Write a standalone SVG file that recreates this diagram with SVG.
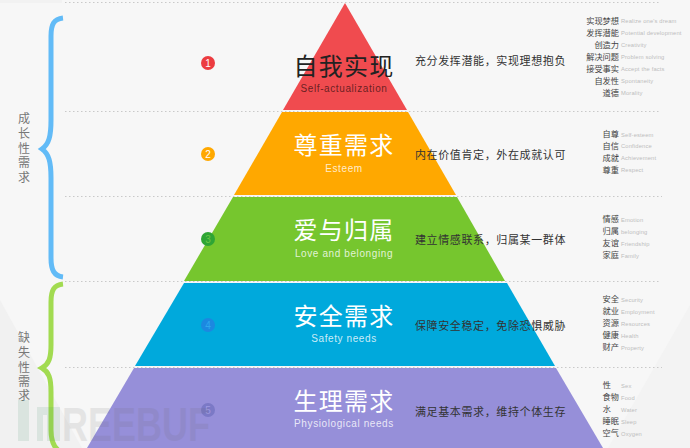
<svg xmlns="http://www.w3.org/2000/svg" width="690" height="448" viewBox="0 0 690 448">
<style>
text{font-family:"Liberation Sans","Noto Sans CJK SC",sans-serif}
.cn{font-family:"Noto Sans CJK SC","Liberation Sans",sans-serif}
.title{font-size:24px;fill:#fff;text-anchor:middle;letter-spacing:1.2px}
.en{font-size:10px;fill:#fff;fill-opacity:.8;text-anchor:middle;letter-spacing:.6px}
.desc{font-size:11px;fill:#333;letter-spacing:.62px}
.k{font-size:8.2px;fill:#444;text-anchor:end}
.v{font-size:5.8px;fill:#bdbdbd;letter-spacing:.15px}
.side{font-size:12px;fill:#777;text-anchor:middle}
.dot{fill:none;stroke:#c9c9c9;stroke-width:1;stroke-dasharray:1.5 2.5}
.num{font-size:10px;text-anchor:middle}
.brace{fill:none;stroke-width:5}
</style>
<rect width="690" height="448" fill="#f7f7f7"/>
<rect width="62" height="3" fill="#f2f2f2"/>
<g id="background">
<polygon points="690,305 608,448 690,448" fill="#f3f3f3"/>
<polygon points="0,300 0,448 82,448" fill="#f1f1f1"/>
</g>
<g id="connectors">
<path class="dot" d="M65 2.500H660M65 111.500H660M65 196.500H662M65 281.500H660M65 367.500H662"/>
<path class="brace" stroke="#62bbf7" d="M63 18C54 19 51 24 51 36V120C51 136 49 144 42 149C49 154 51 162 51 178V258C51 270 54 276 63 277"/>
<path class="brace" stroke="#a2db51" d="M63 284C54 285 51 290 51 302V345C51 358 49 364 42 368C49 372 51 378 51 392V430C51 440 53 446 58 450"/>
</g>
<g id="level-5">
<polygon points="134,368 556,368 603,448 87,448" fill="#968fd9"/>
<circle cx="208" cy="410" r="7" fill="#7b79c6"/><text class="num" x="208" y="414" fill="#a09be2">5</text>
<text class="title cn" x="344" y="410">生理需求</text>
<text class="en" x="344" y="427">Physiological needs</text>
<text class="desc cn" x="415" y="416">满足基本需求，维持个体生存</text>
</g>
<g id="level-4">
<polygon points="184,283 507,283 555,366 135,366" fill="#00a9dc"/>
<circle cx="208" cy="325" r="7" fill="#1c88e0"/><text class="num" x="208" y="329" fill="#2fa8ee">4</text>
<text class="title cn" x="344" y="325">安全需求</text>
<text class="en" x="344" y="342">Safety needs</text>
<text class="desc cn" x="415" y="330">保障安全稳定，免除恐惧威胁</text>
</g>
<g id="level-3">
<polygon points="233,197 457,197 505,281 184,281" fill="#76c62e"/>
<circle cx="208" cy="239" r="7" fill="#2ea535"/><text class="num" x="208" y="243" fill="#6cc644">3</text>
<text class="title cn" x="344" y="239">爱与归属</text>
<text class="en" x="344" y="257">Love and belonging</text>
<text class="desc cn" x="415" y="244">建立情感联系，归属某一群体</text>
</g>
<g id="level-2">
<polygon points="282,112 408,112 456,195 234,195" fill="#ffa800"/>
<circle cx="208" cy="154" r="7" fill="#ffa800"/><text class="num" x="208" y="158" fill="#fff">2</text>
<text class="title cn" x="344" y="154">尊重需求</text>
<text class="en" x="344" y="172">Esteem</text>
<text class="desc cn" x="415" y="159">内在价值肯定，外在成就认可</text>
</g>
<g id="level-1">
<polygon points="345,3 407,110 283,110" fill="#f04b4f"/>
<circle cx="208" cy="63" r="7" fill="#ec3c40"/><text class="num" x="208" y="67" fill="#fff">1</text>
<text class="title cn" x="344" y="75" style="fill:#222">自我实现</text>
<text class="en" x="344" y="92" style="fill:#5a1a1c;fill-opacity:.9">Self-actualization</text>
<text class="desc cn" x="415" y="65">充分发挥潜能，实现理想抱负</text>
</g>
<g id="side-labels">
<text class="side cn" x="24" y="123">成</text><text class="side cn" x="24" y="138">长</text><text class="side cn" x="24" y="153">性</text><text class="side cn" x="24" y="167">需</text><text class="side cn" x="24" y="182">求</text>
<text class="side cn" x="24" y="342">缺</text><text class="side cn" x="24" y="357">失</text><text class="side cn" x="24" y="372">性</text><text class="side cn" x="24" y="386">需</text><text class="side cn" x="24" y="400">求</text>
</g>
<g id="list-1">
<text class="k cn" x="619" y="24">实现梦想</text><text class="v" x="621" y="23">Realize one's dream</text>
<text class="k cn" x="619" y="36">发挥潜能</text><text class="v" x="621" y="35">Potential development</text>
<text class="k cn" x="619" y="48">创造力</text><text class="v" x="621" y="47">Creativity</text>
<text class="k cn" x="619" y="60">解决问题</text><text class="v" x="621" y="59">Problem solving</text>
<text class="k cn" x="619" y="72">接受事实</text><text class="v" x="621" y="71">Accept the facts</text>
<text class="k cn" x="619" y="84">自发性</text><text class="v" x="621" y="83">Spontaneity</text>
<text class="k cn" x="619" y="96">道德</text><text class="v" x="621" y="95">Morality</text>
</g>
<g id="list-2">
<text class="k cn" x="619" y="137">自尊</text><text class="v" x="621" y="137">Self-esteem</text>
<text class="k cn" x="619" y="149">自信</text><text class="v" x="621" y="148">Confidence</text>
<text class="k cn" x="619" y="161">成就</text><text class="v" x="621" y="160">Achievement</text>
<text class="k cn" x="619" y="173">尊重</text><text class="v" x="621" y="172">Respect</text>
</g>
<g id="list-3">
<text class="k cn" x="619" y="222">情感</text><text class="v" x="621" y="222">Emotion</text>
<text class="k cn" x="619" y="234">归属</text><text class="v" x="621" y="234">belonging</text>
<text class="k cn" x="619" y="246">友谊</text><text class="v" x="621" y="246">Friendship</text>
<text class="k cn" x="619" y="258">家庭</text><text class="v" x="621" y="258">Family</text>
</g>
<g id="list-4">
<text class="k cn" x="619" y="302">安全</text><text class="v" x="621" y="302">Security</text>
<text class="k cn" x="619" y="314">就业</text><text class="v" x="621" y="314">Employment</text>
<text class="k cn" x="619" y="326">资源</text><text class="v" x="621" y="326">Resources</text>
<text class="k cn" x="619" y="338">健康</text><text class="v" x="621" y="338">Health</text>
<text class="k cn" x="619" y="350">财产</text><text class="v" x="621" y="350">Property</text>
</g>
<g id="list-5">
<text class="k cn" x="611" y="388">性</text><text class="v" x="621" y="388">Sex</text>
<text class="k cn" x="619" y="400">食物</text><text class="v" x="621" y="400">Food</text>
<text class="k cn" x="611" y="412">水</text><text class="v" x="621" y="412">Water</text>
<text class="k cn" x="619" y="424">睡眠</text><text class="v" x="621" y="424">Sleep</text>
<text class="k cn" x="619" y="436">空气</text><text class="v" x="621" y="436">Oxygen</text>
</g>
<g id="watermark" opacity=".12">
<rect x="18" y="400" width="11" height="41" fill="#3f8f68"/>
<rect x="37" y="407" width="6" height="34" fill="#3f8f68"/><rect x="47" y="407" width="13" height="34" fill="#3f8f68"/>
<rect x="37" y="407" width="23" height="8" fill="#3f8f68"/>
<text x="62" y="441" font-size="48" font-weight="700" fill="#666" textLength="148" lengthAdjust="spacingAndGlyphs">REEBUF</text>
</g>
</svg>
